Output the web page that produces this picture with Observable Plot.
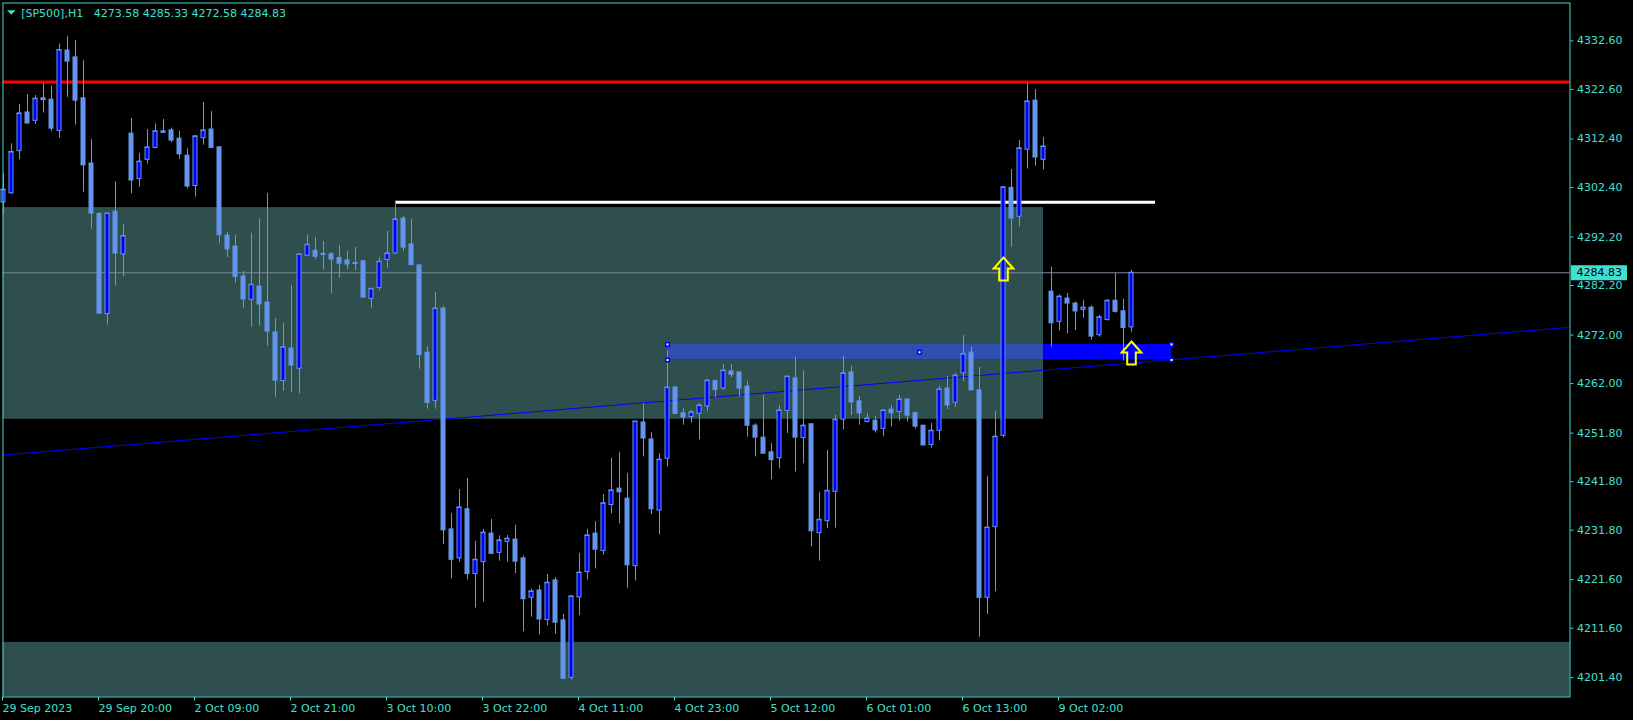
<!DOCTYPE html>
<html><head><meta charset="utf-8">
<script src="https://cdn.jsdelivr.net/npm/d3@7"></script>
<script src="https://cdn.jsdelivr.net/npm/@observablehq/plot@0.6"></script>
<style>html,body{margin:0;padding:0;background:#000;overflow:hidden}</style>
</head><body><div id="chart"></div>
<script>
// ---- Data (SP500, H1) ----
const symbolName = "[SP500],H1";
const open = [4299.31,4301.20,4309.90,4317.85,4316.14,4320.78,4320.50,4314.06,4330.62,4329.20,4320.78,4307.35,4296.94,4276.32,4297.41,4288.62,4313.50,4304.13,4308.10,4310.56,4313.97,4314.16,4312.46,4308.96,4302.71,4312.55,4314.35,4310.66,4292.49,4290.22,4284.08,4279.25,4281.99,4278.68,4272.53,4262.51,4269.22,4265.06,4288.33,4289.37,4288.71,4288.62,4287.86,4287.39,4286.82,4287.20,4279.44,4281.71,4287.48,4288.81,4295.99,4290.70,4286.35,4268.37,4258.44,4277.45,4231.95,4225.99,4236.11,4222.77,4225.23,4231.10,4227.13,4229.40,4229.87,4225.99,4217.86,4219.37,4213.31,4221.45,4213.22,4201.39,4217.95,4223.16,4231.10,4227.50,4236.97,4240.37,4238.29,4224.38,4253.99,4250.49,4235.83,4246.52,4261.18,4255.88,4255.13,4255.79,4257.30,4262.51,4260.99,4264.49,4264.30,4261.37,4253.33,4250.87,4247.84,4246.61,4256.36,4263.07,4250.78,4253.62,4231.19,4233.66,4239.71,4254.56,4264.30,4258.34,4254.09,4254.37,4252.67,4256.64,4256.17,4258.72,4255.88,4253.33,4249.36,4252.29,4260.99,4258.06,4264.11,4268.37,4260.61,4217.86,4232.42,4251.25,4302.33,4296.37,4310.18,4320.31,4308.10,4280.95,4274.71,4279.53,4278.49,4277.17,4277.64,4271.97,4275.09,4279.06,4276.89,4273.58];
const high = [4305.17,4311.41,4319.55,4321.54,4321.35,4323.81,4323.33,4331.94,4333.55,4332.70,4328.54,4312.27,4297.13,4297.04,4303.56,4294.86,4316.62,4309.43,4314.35,4315.48,4316.43,4314.63,4313.97,4310.37,4313.12,4319.93,4318.04,4310.85,4293.16,4292.49,4285.12,4292.97,4295.99,4301.20,4275.37,4274.43,4282.18,4288.62,4292.68,4292.12,4291.26,4288.99,4290.51,4289.18,4290.04,4287.20,4281.52,4287.95,4293.35,4299.50,4296.47,4295.81,4286.35,4269.60,4280.76,4277.93,4235.26,4240.18,4242.45,4229.49,4231.95,4234.03,4230.63,4230.72,4232.80,4226.46,4219.66,4220.41,4222.68,4222.02,4214.45,4218.33,4227.03,4231.95,4233.56,4239.14,4246.61,4247.84,4243.49,4254.18,4257.87,4251.91,4247.56,4268.75,4261.47,4256.83,4256.45,4257.87,4262.89,4262.51,4265.91,4265.91,4264.30,4262.51,4253.71,4259.57,4249.64,4257.49,4263.45,4267.43,4264.68,4253.62,4239.61,4248.22,4255.51,4267.61,4265.53,4259.38,4255.88,4255.22,4256.64,4257.49,4259.57,4258.72,4256.17,4253.33,4253.80,4261.47,4263.55,4264.11,4271.87,4269.60,4265.34,4242.83,4256.26,4302.62,4306.12,4312.08,4323.81,4322.58,4312.74,4285.97,4280.29,4280.57,4278.78,4279.16,4278.02,4276.03,4279.34,4284.74,4279.34,4285.33];
const low = [4296.94,4301.01,4308.10,4315.67,4315.39,4317.75,4313.87,4312.55,4320.97,4315.29,4301.39,4293.82,4276.32,4274.05,4282.09,4283.98,4301.10,4302.43,4307.25,4310.37,4313.50,4311.60,4308.20,4302.14,4300.44,4311.13,4310.37,4290.79,4287.95,4282.66,4277.55,4273.67,4273.86,4269.70,4259.20,4260.43,4260.14,4259.86,4288.33,4287.48,4285.40,4280.48,4283.79,4285.40,4285.21,4279.82,4277.55,4281.14,4285.78,4288.62,4289.18,4286.53,4264.97,4256.74,4256.74,4228.83,4221.73,4225.23,4221.54,4215.77,4217.00,4226.84,4225.42,4225.23,4222.87,4210.85,4213.88,4210.19,4212.08,4210.38,4201.10,4200.92,4214.17,4221.54,4223.82,4226.65,4235.17,4233.09,4219.84,4221.35,4246.90,4234.98,4230.82,4244.82,4255.69,4253.43,4253.90,4250.40,4256.17,4259.01,4260.61,4263.17,4259.20,4250.97,4246.90,4247.66,4242.17,4244.44,4251.72,4243.78,4245.48,4228.36,4225.42,4232.14,4232.23,4252.48,4255.41,4253.43,4253.90,4251.82,4251.06,4253.05,4254.28,4254.09,4252.67,4249.17,4248.70,4250.21,4256.64,4257.11,4262.41,4260.71,4209.72,4214.45,4219.09,4250.78,4290.13,4294.29,4306.21,4306.78,4306.02,4269.51,4272.82,4272.25,4272.91,4275.47,4270.93,4271.59,4274.90,4276.51,4266.67,4272.58];
const close = [4301.95,4309.71,4317.66,4315.67,4320.69,4320.50,4314.63,4330.71,4328.44,4320.40,4307.06,4297.13,4276.51,4297.04,4288.90,4292.40,4303.94,4307.73,4310.66,4313.97,4313.78,4312.17,4309.33,4302.71,4312.93,4314.16,4310.66,4292.68,4289.75,4284.08,4279.44,4282.37,4278.40,4272.82,4262.70,4269.51,4265.82,4288.62,4290.60,4288.24,4288.62,4287.67,4286.82,4286.63,4286.75,4279.82,4281.52,4287.10,4288.81,4295.81,4290.13,4286.53,4267.99,4258.15,4277.45,4231.86,4225.80,4236.49,4222.87,4225.71,4231.29,4227.03,4229.68,4230.06,4225.42,4217.67,4219.18,4213.50,4220.98,4212.84,4201.30,4218.14,4223.06,4230.72,4227.88,4237.34,4239.99,4239.71,4224.67,4254.18,4250.78,4236.21,4246.33,4261.18,4255.88,4255.13,4256.07,4257.49,4262.60,4260.80,4264.68,4263.93,4261.09,4253.43,4250.97,4247.66,4246.33,4256.45,4263.45,4250.97,4253.33,4231.67,4233.94,4239.90,4254.56,4264.11,4258.25,4255.98,4254.85,4252.48,4256.45,4255.98,4258.72,4255.51,4253.24,4249.36,4252.29,4260.80,4257.59,4263.64,4268.09,4260.71,4217.95,4232.33,4251.06,4302.43,4296.09,4310.47,4320.12,4308.67,4310.85,4274.52,4279.91,4278.59,4276.98,4277.64,4271.78,4275.66,4279.06,4276.89,4273.58,4284.83];

// time-axis labels (bar index -> label)
const xTickBars = [0,12,24,36,48,60,72,84,96,108,120,132];
const xTickLabels = ["29 Sep 2023","29 Sep 20:00","2 Oct 09:00","2 Oct 21:00","3 Oct 10:00","3 Oct 22:00","4 Oct 11:00","4 Oct 23:00","5 Oct 12:00","6 Oct 01:00","6 Oct 13:00","9 Oct 02:00"];
// price-axis labels
const yTicks = [4332.60,4322.60,4312.40,4302.40,4292.20,4282.20,4272.00,4262.00,4251.80,4241.80,4231.80,4221.60,4211.60,4201.40];

// objects drawn on the chart
const zoneStart = [-1, -1];
const zoneEnd = [130, 200];
const zoneBottom = [4254.65, 4190.00];
const zoneTop = [4298.26, 4208.68];
const boxStart = 83, boxEnd = 146, boxBottom = 4266.86, boxTop = 4270.07;
const resistance = 4324.15;
const whiteLevel = 4299.35, whiteStart = 49, whiteEnd = 144;
const trendBars = [-1, 196];
const trendPrices = [4247.15, 4273.62];
const arrowBars = [125, 141];
const arrowPrices = [4285.60, 4268.30];
const bid = close[close.length - 1];

// ---- Build ----
const FG = "#40e0d0", BULL = "#0000ff", BEAR = "#6495ed", ZONE = "#2f4f4f";
const candles = open.map((o, k) => ({i: k, o, h: high[k], l: low[k], c: close[k]}));
const zones = zoneStart.map((s, k) => ({x1: s, x2: zoneEnd[k], y1: zoneBottom[k], y2: zoneTop[k]}));
const box = {x1: boxStart, x2: boxEnd, y1: boxBottom, y2: boxTop};
const ov = {x1: Math.max(box.x1, zones[0].x1), x2: Math.min(box.x2, zones[0].x2),
            y1: Math.max(box.y1, zones[0].y1), y2: Math.min(box.y2, zones[0].y2)};
const handles = [
  {i: box.x1, p: box.y2}, {i: box.x1, p: box.y1},
  {i: (box.x1 + box.x2) / 2, p: (box.y1 + box.y2) / 2},
  {i: box.x2, p: box.y2}, {i: box.x2, p: box.y1}
];
const trend = trendBars.map((b, k) => ({i: b, p: trendPrices[k]}));
const arrows = arrowBars.map((b, k) => ({i: b, p: arrowPrices[k]}));
const tickLabel = new Map(xTickBars.map((b, k) => [b, xTickLabels[k]]));
const titleText = symbolName + "\u00a0\u00a0 " + [open, high, low, close].map(a => a[a.length - 1].toFixed(2)).join(" ");

const arrowSym = {draw(ctx) {
  ctx.moveTo(0, -11.5); ctx.lineTo(9.8, -0.5); ctx.lineTo(4.3, -0.5); ctx.lineTo(4.3, 11.5);
  ctx.lineTo(-4.3, 11.5); ctx.lineTo(-4.3, -0.5); ctx.lineTo(-9.8, -0.5); ctx.closePath();
}};
const sq = s => ({draw(ctx) { ctx.rect(-s / 2, -s / 2, s, s); }});
const labelBox = {draw(ctx) { ctx.rect(-28, -7.5, 56, 15); }};
const tri = {draw(ctx) { ctx.moveTo(-4.2, -2.2); ctx.lineTo(4.2, -2.2); ctx.lineTo(0, 2.2); ctx.closePath(); }};

const chart = Plot.plot({
  width: 1633, height: 720,
  marginLeft: 2.5, marginRight: 63.5, marginTop: 2.5, marginBottom: 23.5,
  style: {background: "#000", color: FG, fontFamily: "DejaVu Sans", fontSize: "11px"},
  x: {type: "linear", domain: [-0.0625, 195.8125]},
  y: {type: "linear", domain: [4197.43, 4340.41]},
  marks: [
    Plot.rect(zones, {x1: "x1", x2: "x2", y1: "y1", y2: "y2", fill: ZONE, clip: true}),
    Plot.rect([box], {x1: "x1", x2: "x2", y1: "y1", y2: "y2", fill: BULL, clip: true}),
    Plot.rect([ov], {x1: "x1", x2: "x2", y1: "y1", y2: "y2", fill: "#2f4fb0", clip: true}),
    Plot.line(trend, {x: "i", y: "p", stroke: BULL, strokeWidth: 1, clip: true}),
    Plot.ruleY([resistance], {stroke: "#ff0000", strokeWidth: 3}),
    Plot.ruleY([whiteLevel], {x1: whiteStart, x2: whiteEnd, stroke: "#ffffff", strokeWidth: 3}),
    Plot.ruleY([bid], {stroke: "#778899", strokeWidth: 1}),
    Plot.ruleX(candles, {x: "i", y1: "l", y2: "h", stroke: BEAR, strokeWidth: 1}),
    Plot.rect(candles, {x1: d => d.i - 0.25, x2: d => d.i + 0.25, y1: "o", y2: "c",
      fill: d => d.c > d.o ? BULL : BEAR, stroke: BEAR, strokeWidth: 1}),
    Plot.ruleY(candles, {y: "c", x1: d => d.i - 0.3125, x2: d => d.i + 0.3125, stroke: BEAR, strokeWidth: 1}),
    Plot.dot(arrows, {x: "i", y: "p", symbol: arrowSym, fill: "none", stroke: "#ffff00", strokeWidth: 2}),
    Plot.dot(handles, {x: "i", y: "p", symbol: sq(5), fill: BULL}),
    Plot.dot(handles, {x: "i", y: "p", symbol: sq(2), fill: "#ffffff"}),
    Plot.axisX({ticks: xTickBars, tickFormat: d => tickLabel.get(d), tickSize: 4, tickPadding: 3,
      textAnchor: "start", dx: -1, label: null}),
    Plot.axisY({anchor: "right", ticks: yTicks, tickFormat: d => d.toFixed(2), tickSize: 3, tickPadding: 4, label: null}),
    Plot.frame({stroke: FG}),
    Plot.dot([bid], {y: d => d, frameAnchor: "right", dx: 29, symbol: labelBox, fill: FG}),
    Plot.text([bid], {y: d => d, frameAnchor: "right", dx: 6.5, text: d => d.toFixed(2), textAnchor: "start", fill: "#000"}),
    Plot.dot([0], {frameAnchor: "top-left", dx: 8.3, dy: 9.5, symbol: tri, fill: FG}),
    Plot.text([titleText], {frameAnchor: "top-left", text: d => d, dx: 18.2, dy: 6.5, textAnchor: "start", lineAnchor: "top", fill: FG})
  ]
});
document.getElementById("chart").appendChild(chart);
</script></body></html>
